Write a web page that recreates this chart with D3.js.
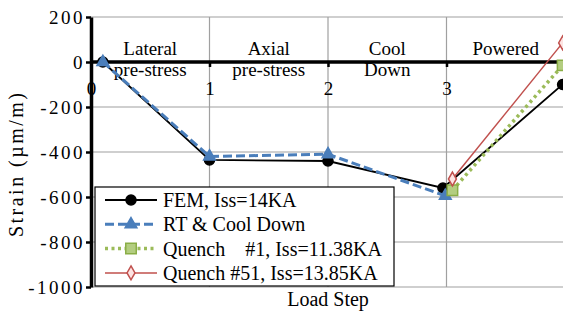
<!DOCTYPE html>
<html>
<head>
<meta charset="utf-8">
<script src="https://cdn.jsdelivr.net/npm/d3@7"></script>
<style>
  body { margin: 0; background: #fff; }
  svg text { font-family: "Liberation Serif", "Times New Roman", serif; fill: #000; }
</style>
</head>
<body>
<div id="chart"></div>
<script>
// datos
const steps = [0, 1, 2, 3];
const stepLabels = ['0', '1', '2', '3'];
const phaseNames = [['Lateral', 'pre-stress'], ['Axial', 'pre-stress'], ['Cool', 'Down'], ['Powered']];
const phasePos = [0.5, 1.5, 2.5, 3.5];
const yTicks = [200, 0, -200, -400, -600, -800, -1000];

const femX = [0.1, 1, 2, 2.97, 3.98];
const femY = [0, -435, -440, -560, -100];
const rtX = [0.1, 1, 2, 2.99];
const rtY = [0, -420, -410, -595];
const q1X = [3.05, 3.98];
const q1Y = [-570, -15];
const q51X = [3.05, 3.98];
const q51Y = [-520, 85];

const seriesNames = ['FEM, Iss=14KA', 'RT & Cool Down', 'Quench    #1, Iss=11.38KA', 'Quench #51, Iss=13.85KA'];

const serif = '"Liberation Serif", "Times New Roman", serif';
const svgWidth = 563;
const svgHeight = 311;

const svg = d3.select('#chart')
  .append('svg')
  .attr('width', svgWidth)
  .attr('height', svgHeight)
  .attr('font-family', serif);

const x = d3.scaleLinear().domain([0, 4]).range([91, 565]);
const y = d3.scaleLinear().domain([-1000, 200]).range([287, 17]);

// rejilla
svg.append('g').selectAll('line')
  .data(yTicks.filter(d => d !== 0))
  .enter().append('line')
  .attr('x1', x(0)).attr('x2', svgWidth)
  .attr('y1', d => y(d)).attr('y2', d => y(d))
  .attr('stroke', '#a0a0a0').attr('stroke-width', 1.2);

svg.append('g').selectAll('line')
  .data(steps.slice(1))
  .enter().append('line')
  .attr('x1', d => x(d)).attr('x2', d => x(d))
  .attr('y1', y(200)).attr('y2', y(-1000))
  .attr('stroke', '#a0a0a0').attr('stroke-width', 1.2);

// eje Y
const yAxis = svg.append('g')
  .attr('transform', `translate(${x(0)},0)`)
  .call(d3.axisLeft(y).tickValues(yTicks).tickFormat(d => String(d)).tickSize(5).tickSizeOuter(0).tickPadding(1));
yAxis.attr('font-family', serif).attr('font-size', 19);
yAxis.select('.domain').attr('stroke', '#000').attr('stroke-width', 3.5);
yAxis.selectAll('.tick line').attr('stroke', '#000').attr('stroke-width', 2.5);
yAxis.selectAll('text')
  .style('font-family', serif)
  .style('font-size', '19px')
  .style('letter-spacing', '2.5px');

// eje X en cero
const xAxis = svg.append('g')
  .attr('transform', `translate(0,${y(0)})`)
  .call(d3.axisBottom(x).tickValues(steps).tickFormat((d, i) => stepLabels[i]).tickSize(5).tickSizeOuter(0).tickPadding(14.5));
xAxis.attr('font-family', serif).attr('font-size', 19);
xAxis.select('.domain').attr('stroke', '#000').attr('stroke-width', 3.5).attr('d', `M${x(0)},0H${svgWidth}`);
xAxis.selectAll('.tick line').attr('stroke', '#000').attr('stroke-width', 2.5);
xAxis.selectAll('text')
  .style('font-family', serif)
  .style('font-size', '19px');

// nombres de las etapas
phaseNames.forEach((lines, i) => {
  lines.forEach((t, j) => {
    svg.append('text')
      .attr('x', x(phasePos[i]))
      .attr('y', 55 + j * 21)
      .attr('text-anchor', 'middle')
      .style('font-size', '19px')
      .text(t);
  });
});

// series
const styles = [
  { xs: femX, ys: femY, color: '#000', width: 1.8, dash: null, sym: d3.symbolCircle, size: 80, fill: '#000', stroke: '#000' },
  { xs: rtX, ys: rtY, color: '#4a7ebb', width: 3, dash: '9,4', sym: d3.symbolTriangle, size: 60, fill: '#4a7ebb', stroke: '#4a7ebb' },
  { xs: q1X, ys: q1Y, color: '#9bbb59', width: 3.5, dash: '3,3.5', sym: d3.symbolSquare, size: 110, fill: '#b3cd80', stroke: '#8aae46' },
  { xs: q51X, ys: q51Y, color: '#c0504d', width: 1.5, dash: null, sym: d3.symbolDiamond, size: 55, fill: '#fde3e2', stroke: '#c0504d' }
];

const line = d3.line().x(d => x(d[0])).y(d => y(d[1]));

styles.forEach(s => {
  const pts = s.xs.map((v, i) => [v, s.ys[i]]);
  svg.append('path')
    .datum(pts)
    .attr('d', line)
    .attr('fill', 'none')
    .attr('stroke', s.color)
    .attr('stroke-width', s.width)
    .attr('stroke-dasharray', s.dash);
  svg.selectAll(null)
    .data(pts)
    .enter().append('path')
    .attr('transform', d => `translate(${x(d[0])},${y(d[1])})`)
    .attr('d', d3.symbol().type(s.sym).size(s.size))
    .attr('fill', s.fill)
    .attr('stroke', s.stroke)
    .attr('stroke-width', 1.5);
});

// leyenda
const legend = svg.append('g');
legend.append('rect')
  .attr('x', 95).attr('y', 187)
  .attr('width', 299).attr('height', 99)
  .attr('fill', '#fff').attr('stroke', '#000').attr('stroke-width', 1.2);

styles.forEach((s, i) => {
  const ly = 200 + i * 24.3;
  legend.append('line')
    .attr('x1', 105).attr('x2', 157)
    .attr('y1', ly).attr('y2', ly)
    .attr('stroke', s.color)
    .attr('stroke-width', s.width)
    .attr('stroke-dasharray', s.dash);
  legend.append('path')
    .attr('transform', `translate(131,${ly})`)
    .attr('d', d3.symbol().type(s.sym).size(s.size))
    .attr('fill', s.fill)
    .attr('stroke', s.stroke)
    .attr('stroke-width', 1.5);
  legend.append('text')
    .attr('x', 163)
    .attr('y', ly)
    .attr('dy', '0.35em')
    .style('font-size', '20px')
    .style('white-space', 'pre')
    .text(seriesNames[i]);
});

// titulos de ejes
svg.append('text')
  .attr('transform', 'translate(23,165) rotate(-90)')
  .attr('text-anchor', 'middle')
  .style('font-size', '20px')
  .attr('textLength', 144)
  .attr('lengthAdjust', 'spacing')
  .text('Strain (µm/m)');

svg.append('text')
  .attr('x', 328)
  .attr('y', 306)
  .attr('text-anchor', 'middle')
  .style('font-size', '20px')
  .text('Load Step');
</script>
</body>
</html>
